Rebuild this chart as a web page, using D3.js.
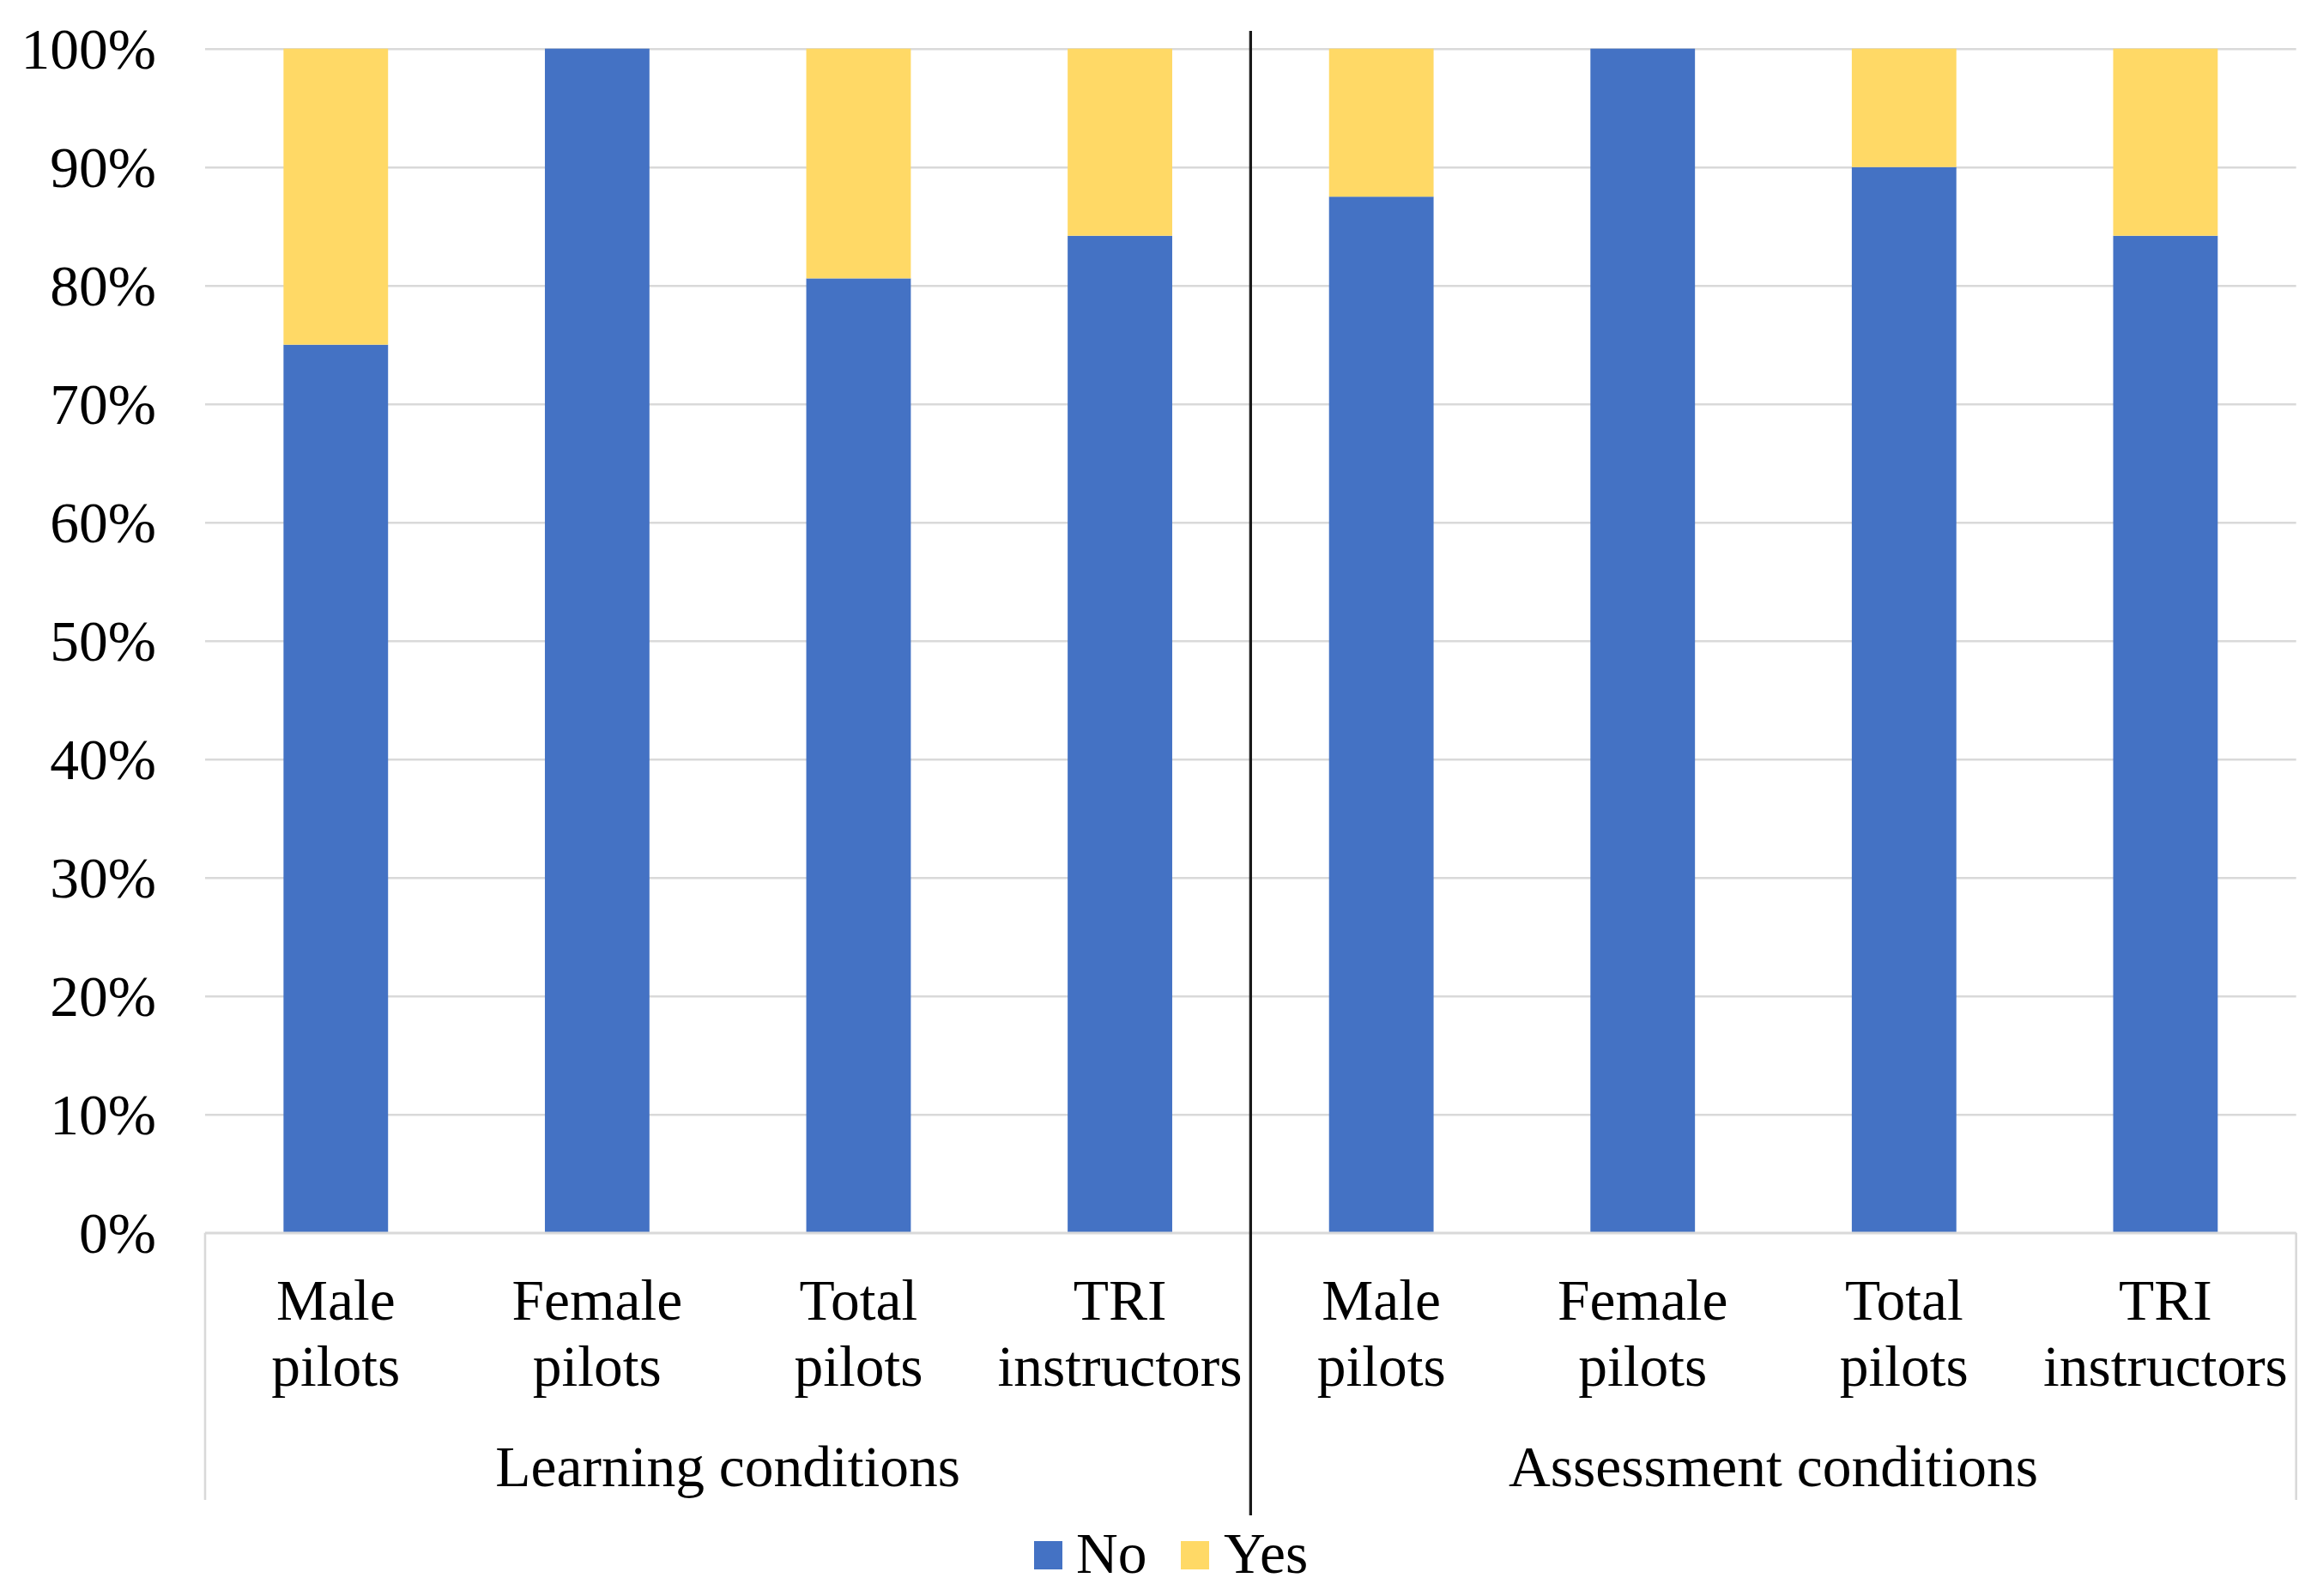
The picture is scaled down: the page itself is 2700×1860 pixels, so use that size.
<!DOCTYPE html>
<html>
<head>
<meta charset="utf-8">
<script src="https://cdn.jsdelivr.net/npm/d3@7"></script>
<style>
  html, body { margin: 0; padding: 0; background: #fff; }
  svg { display: block; font-family: "Liberation Serif", "Times New Roman", serif; }
</style>
</head>
<body>
<svg id="chart" width="2700" height="1860"></svg>
<script>
// ---- data ----
const groups = ["Learning conditions", "Assessment conditions"];
const categories = ["Male pilots", "Female pilots", "Total pilots", "TRI instructors"];
const noValues  = [0.75, 1.00, 0.806, 0.842, 0.875, 1.00, 0.90, 0.842];
const yesValues = [0.25, 0.00, 0.194, 0.158, 0.125, 0.00, 0.10, 0.158];
const seriesNames = ["No", "Yes"];
const seriesColors = ["#4472C4", "#FFD966"];
const yTicks = [0, 0.1, 0.2, 0.3, 0.4, 0.5, 0.6, 0.7, 0.8, 0.9, 1.0];

(function () {
// ---- layout ----
const plotLeft = 239, plotRight = 2675.7, plotTop = 56.7, plotBottom = 1436.7;
const fontSize = 67.5;

const rows = [];
groups.forEach((g, gi) => categories.forEach((c, ci) => {
  const i = gi * categories.length + ci;
  rows.push({ key: g + "|" + c, group: g, cat: c, No: noValues[i], Yes: yesValues[i] });
}));

const svg = d3.select("#chart");
const x = d3.scaleBand().domain(rows.map(d => d.key)).range([plotLeft, plotRight])
  .paddingInner(0.6).paddingOuter(0.3);
const y = d3.scaleLinear().domain([0, 1]).range([plotBottom, plotTop]);

// gridlines
const grid = svg.append("g").attr("transform", `translate(${plotLeft},0)`)
  .call(d3.axisLeft(y).tickValues(yTicks).tickSize(-(plotRight - plotLeft)).tickFormat(""));
grid.select(".domain").remove();
grid.selectAll(".tick line").attr("stroke", "#D9D9D9").attr("stroke-width", 2.6);

// y tick labels
const yAxis = svg.append("g").attr("transform", `translate(${plotLeft - 57},0)`)
  .call(d3.axisLeft(y).tickValues(yTicks).tickSize(0).tickPadding(0).tickFormat(d3.format(".0%")));
yAxis.select(".domain").remove();
yAxis.selectAll("text")
  .attr("font-family", "'Liberation Serif', 'Times New Roman', serif")
  .attr("font-size", fontSize).attr("fill", "#000").attr("dy", "0.34em");

// stacked bars
const stack = d3.stack().keys(seriesNames)(rows);
svg.append("g").selectAll("g").data(stack).join("g")
  .attr("fill", (d, i) => seriesColors[i])
  .selectAll("rect").data(d => d).join("rect")
  .attr("x", d => x(d.data.key))
  .attr("width", x.bandwidth())
  .attr("y", d => y(d[1]))
  .attr("height", d => y(d[0]) - y(d[1]));

// category axis frame
const frameBottom = 1748;
svg.append("line").attr("x1", plotLeft).attr("x2", plotRight).attr("y1", plotBottom).attr("y2", plotBottom)
  .attr("stroke", "#D9D9D9").attr("stroke-width", 2.6);
[plotLeft, plotRight].forEach(xx => svg.append("line")
  .attr("x1", xx).attr("x2", xx).attr("y1", plotBottom).attr("y2", frameBottom)
  .attr("stroke", "#D9D9D9").attr("stroke-width", 2.6));

// category labels
const catG = svg.append("g").attr("font-size", fontSize).attr("text-anchor", "middle").attr("fill", "#000");
rows.forEach(d => {
  const words = d.cat.split(" ");
  const cx = x(d.key) + x.bandwidth() / 2;
  const t = catG.append("text").attr("x", cx).attr("y", 1537.7);
  words.forEach((w, i) => t.append("tspan").attr("x", cx)
    .attr("dy", i === 0 ? 0 : 77.3).text(w));
});

// group labels
const step = x.step();
groups.forEach((g, gi) => {
  const first = rows[gi * categories.length].key;
  const last = rows[gi * categories.length + categories.length - 1].key;
  const gx0 = gi === 0 ? plotLeft : x(first) - step * x.paddingInner() / 2;
  const gx1 = gi === groups.length - 1 ? plotRight : x(last) + x.bandwidth() + step * x.paddingInner() / 2;
  svg.append("text").attr("x", (gx0 + gx1) / 2).attr("y", 1731.7)
    .attr("font-size", fontSize).attr("text-anchor", "middle").attr("fill", "#000").text(g);
});

// separator between groups
const sepX = x(rows[categories.length].key) - step * x.paddingInner() / 2;
svg.append("line").attr("x1", sepX).attr("x2", sepX).attr("y1", 36).attr("y2", 1766)
  .attr("stroke", "#1a1a1a").attr("stroke-width", 3.3);

// legend
const legendItems = [{ name: "No", sx: 1205, tx: 1254 }, { name: "Yes", sx: 1376, tx: 1426 }];
const lg = svg.append("g");
legendItems.forEach(it => {
  lg.append("rect").attr("x", it.sx).attr("y", 1796).attr("width", 33).attr("height", 33)
    .attr("fill", seriesColors[seriesNames.indexOf(it.name)]);
  lg.append("text").attr("x", it.tx).attr("y", 1833).attr("font-size", fontSize)
    .attr("fill", "#000").text(it.name);
});
})();
</script>
</body>
</html>
